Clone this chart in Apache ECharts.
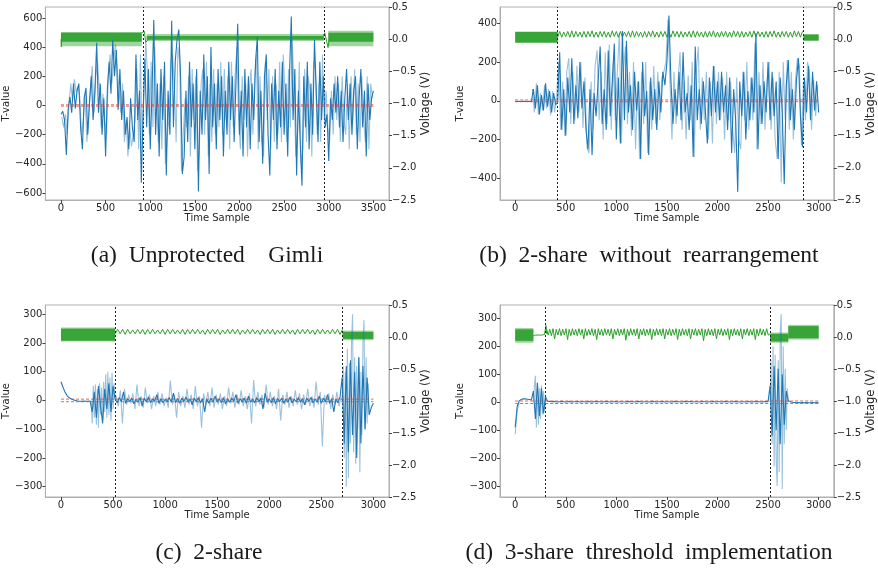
<!DOCTYPE html>
<html><head><meta charset="utf-8">
<script src="https://cdn.jsdelivr.net/npm/echarts@6/dist/echarts.min.js"></script>
<style>html,body{margin:0;padding:0;background:#fff}#c{width:878px;height:569px}</style>
</head><body><div id="c"></div>
<script>
// ---------------- DATA ----------------
const X_TICKS_A = [0,500,1000,1500,2000,2500,3000,3500];
const X_TICKS_BCD = [0,500,1000,1500,2000,2500,3000];
const Y_TICKS_A = [-600,-400,-200,0,200,400,600];
const Y_TICKS_B = [-400,-200,0,200,400];
const Y_TICKS_CD = [-300,-200,-100,0,100,200,300];
const CAPTIONS = ['(a)  Unprotected    Gimli','(b)  2-share  without  rearrangement','(c)  2-share','(d)  3-share  threshold  implementation'];
const THRESH = 4.5;
const VLINES_A = [925, 2955], VLINES_B = [420, 2845], VLINES_C = [520, 2705], VLINES_D = [300, 2520];

// T-values, dark trace (sample step 20, from t=0)
const A_T = [-60,-40,-100,-340,-30, 60,-50,150,-20,100, 150,-150,-300,50,120, -200,30,200,-100,100, 430,-50,150,-200,50,
 -350,120,300,80,450, 200,380,-30,250,-100, 100,-200,-80,-300,50, -150,-250,350,-100,100, -530,-50,320,-150,250,
 -300,100,585,-200,150, -350,250,-100,300,-480, 100,-200,580,-150,300, 450,520,200,-470,-350, 100,-250,300,-150,150,
 -300,250,-590,100,-200, 350,-100,200,-470,400, -150,150,-300,250,-100, 200,-350,100,-200,300, -100,200,-250,150,560,
 -200,100,-350,250,-150, 200,-300,150,-100,300, 470,-250,100,-400,200, 350,-200,-480,150,-100, 250,-300,100,-150,300,
 -200,150,-350,200,610, -100,250,-480,100,-250, -550,200,-150,300,-300, 150,-200,450,100,-250, 300,-100,200,-150,-60,
 -380,50,-100,150,-50, 200,-150,100,-250,50, 250,-100,150,-200,100, 200,-300,50,250,-150, 100,-350,150,-100,50, 100];
// T-values, light trace (sample step 20, from t=10)
const A_L = [-80,-150,-60,-200,20, 150,30,180,90,130, 60,-200,-100,80,-250, -80,120,270,-50,200, 300,100,-150,80,-100,
 -200,200,350,150,300, 420,250,100,-50,150, -250,-100,-350,-150,-280, -200,-100,250,-300,350, -300,100,450,200,-200,
 300,-150,400,50,-250, 150,-300,200,-400,-200, -100,300,350,150,-250, 400,300,-450,-200,50, -150,200,-350,250,-100,
 200,-450,-300,150,250, -200,300,-350,150,-250, 250,-200,150,-150,300, -200,250,-100,200,-300, 300,-150,200,400,-100,
 -300,200,-100,150,-350, 100,250,-200,200,350, -300,200,-250,-350,300, -100,250,-300,200,-250, 150,-200,300,-250,350,
 100,-250,250,-150,450, 150,-350,-200,300,-400, -300,250,-250,200,100, -350,300,250,-200,150, -250,350,-100,100,-150,
 -250,100,-200,200,-100, 150,-250,200,-100,-200, 150,-300,200,-100,250, -200,150,-250,200,-100, -250,200,-300,150,50];
const B_T = [-3,-4,-3,-4,-3,-3,-4,-3,-5,
 60,-40,80,-70,30,-50,90,-30,50,-60,40,-20, -10,
 250,-150,60,-180,120,-60,220,-120,80,-90,200,-40,100,-150,-250,60,-280,40,-80,100,280,-120,60,-150,260,-80,100,295,-200,
 120,-220,360,-100,310,-60,80,-150,150,-50,100,-300,200,-80,50,-280,120,-100,60,-150,100,-60,150,80,200,
 440,100,-120,60,-80,150,-100,250,-60,40,-150,80,-290,280,-100,60,-120,100,-50,-220,120,-80,180,-60,100,
 -100,150,-60,80,-150,120,-270,60,-100,-470,100,-80,150,-200,50,-100,120,-60,350,-250,80,-120,100,-60,200,
 -100,150,-80,100,-300,120,-60,-430,80,210,-100,60,-150,100,220,-80,-240,120,-60,180,-100,150,-50,100,-60];
// light trace from t=170, step 20
const B_L = [60,-60,90,-70,40, -50,80,-40,60,-75, 50,-60,30,
 200,-150,100,-180,150, 220,-120,150,-100,180, -60,200,-140,120,-240, -270,100,-150,180,260, -100,150,-200,250,-120,
 290,-150,200,-100,150, 350,-220,150,280,-120, 150,-180,200,-250,100, -300,150,-120,200,-270, 100,-150,180,-120,150,
 -100,120,150,200,420, 100,-200,150,-120,100, 250,-150,100,-200,130, -100,200,-290,150,280, -150,120,-100,150,-200,
 100,-220,180,-120,150, -100,120,-200,150,-100, 100,-150,-270,120,-200, -250,150,-100,200,-150, 120,-100,300,-250,150,
 -120,200,-150,100,200, -150,120,-200,-300,150, -420,200,-100,210,-150, 150,-200,100,220,180, -230,100,-100,200,150,
 -150,110,-80,80];
const C_T = [65,45,28,16,9,5,2,0,
 -2,-3,-3,-2,-3,-3,-2,
 -40,30,-60,50,-20,-80,40,-30,60,-40,50,
 5,-8,10,-5,30,-10,6,-4,8,-12, 4,-6,10,-20,8,-5,12,-8,5,-3, 20,-10,6,-8,4,-5,10,-6,25,-8,
 6,-10,8,-4,12,-6,5,-15,8,-5, 10,-8,6,-40,5,-10,8,-6,15,-5, 6,-8,10,-12,5,-6,8,-4,20,-10,
 6,-5,8,-10,15,-6,4,-8,10,-5, 8,-30,25,-6,5,-8,10,-12,6,-4, 8,-10,5,-6,12,-8,4,-5,10,-6,
 6,-15,8,-4,10,-8,5,-6,15,-10, 8,-5,20,-10,6,-40,5,-8,12,
 80,-150,120,-180,140,-120,100,-200,150,-150,120,-100,80,
 -50,-25,-10];
// light trace pieces ([time, value]; '-' breaks the line)
const C_L_BURST1 = [[290,0],[300,-80],[310,50],[320,-60],[330,55],[340,-85],[350,40],[360,-95],[370,60],[380,-50],[390,45],[400,-70],[410,65],[420,-40],[430,90],[440,-60],[450,100],[460,-50],[470,80],[480,-70],[490,95],[500,-30],[510,60],[520,0]];
// light trace middle part, from t=530, step 20
const C_L_MID = [15,-20,35,-80,40,-15,20,-10,25,-30, 55,-20,15,-25,45,-10,20,-30,15,-20, 30,-15,25,-20,10,-25,69,-15,20,-60,
 30,-20,15,-25,40,-15,20,-30,50,-20, 15,-95,25,-15,30,-20,45,-25,20,-15, 25,-30,15,-20,45,-10,30,-25,20,-15,
 35,-20,15,-30,25,-80,71,-20,30,-15, 20,-25,55,-15,30,-20,15,-30,40,-70, 20,-15,30,-25,15,-20,35,-15,25,-30,
 20,-15,40,-20,15,-25,65,-15,30,-160, 20,-15,25,-30,20,-15,30,-20,10];
const C_L_BURST2 = [[2700,0],[2710,120],[2720,-200],[2730,100],[2740,-300],[2750,180],[2760,-270],[2770,130],[2780,-150],[2790,200],[2800,300],[2810,-180],[2820,150],[2830,-220],[2840,120],[2850,-100],[2860,150],[2870,-250],[2880,100],[2890,-120],[2900,200],[2910,280],[2920,-100],[2930,150],[2940,-80],[2950,60],[2960,-50]];
const D_T = [-90,-15,5,10,12,12,11,10,8,
 40,-60,70,-50,50,-40,20,
 4,3,2,3,2,1,2,3,2,1, 2,3,1,2,2,3,1,2,2,1, 3,2,1,2,3,2,2,1,2,3, 2,1,2,2,3,1,2,2,1,2, 3,2,2,1,2,3,2,1,2,2,
 1,2,3,2,1,2,2,3,1,2, 2,1,2,3,2,2,1,2,3,2, 2,3,1,2,2,1,3,2,2,1, 2,2,3,1,2,2,1,2,3,2, 1,2,2,3,2,1,2,2,1,3,
 2,1,2,3,2,2,1,2,3,2,
 60,-120,130,-100,120,-150,100,-80,40,
 5,2,0,-1,-2,-1,-2,-1,-2,-1,-2,-2,-1,-2,-1,-2];
const D_L = [[0,-115],[20,-30],[40,0],[40,'-'],
 [180,0],[190,60],[200,95],[210,-90],[220,70],[230,-80],[240,50],[250,-60],[260,60],[270,-45],[280,40],[290,-30],[300,5],[300,'-'],
 [2520,0],[2530,150],[2540,-150],[2550,200],[2560,-230],[2570,170],[2580,-200],[2590,-300],[2600,150],[2610,-250],[2620,250],[2630,315],[2640,-310],[2650,200],[2660,-150],[2670,120],[2680,-100],[2690,50],[2700,0]];
const T_STEP = 20;

// Voltage: dense bands [t0, t1, low, high]
const A_BAND_OUT = [[0,905,-0.11,0.11],[960,2945,-0.03,0.08],[2995,3500,-0.11,0.13]];
const A_BAND_CORE = [[0,905,-0.04,0.10],[960,2945,-0.01,0.05],[2995,3500,-0.04,0.10]];
const B_BAND_OUT = [[0,420,-0.06,0.12],[2850,3000,-0.03,0.08]];
const B_BAND_CORE = [[0,420,-0.05,0.11],[2850,3000,-0.02,0.07]];
const C_BAND_OUT = [[0,520,-0.07,0.15],[2705,3000,-0.05,0.10]];
const C_BAND_CORE = [[0,520,-0.06,0.13],[2705,3000,-0.03,0.08]];
const D_BAND_OUT = [[0,180,-0.09,0.14],[2520,2700,-0.09,0.07],[2700,3000,-0.04,0.19]];
const D_BAND_CORE = [[0,180,-0.06,0.12],[2520,2700,-0.07,0.05],[2700,3000,-0.02,0.17]];
// Voltage: individual strokes
const A_VLINE = [[0,0.0],[4,-0.12],[10,0.05],[10,'-'],[905,0.10],[915,0.12],[925,0.08],[935,0.12],[948,-0.05],[965,-0.02],[1000,0.02],[1000,'-'],
 [2940,0.05],[2955,0.10],[2965,0.08],[2975,0.12],[2992,-0.13],[3005,0.0]];
const B_ZIG = [0.03,0.12,0.03,0.11,0.04,0.12,0.03,0.13,0.03,0.12, 0.04,0.11,0.03,0.12,0.03,0.12,0.04,0.13,0.03,0.11,
 0.03,0.12,0.04,0.12,0.03,0.11,0.03,0.13,0.04,0.12, 0.03,0.12,0.03,0.11,0.04,0.12,0.03,0.13,0.03,0.12,
 0.04,0.11,0.03,0.12,0.03,0.12,0.04,0.13,0.03,0.11, 0.03,0.12,0.04,0.12,0.03,0.11,0.03,0.13,0.04,0.12,
 0.03,0.12,0.03,0.11,0.04,0.12,0.03,0.13,0.03,0.12, 0.04,0.11,0.03,0.12,0.03,0.12,0.04,0.13,0.03,0.11,
 0.03,0.12,0.04,0.12,0.03,0.11,0.03,0.13,0.04,0.12, 0.03,0.12,0.03,0.11,0.04,0.12,0.03,0.13,0.03,0.12,
 0.04,0.11,0.03,0.12,0.03,0.12,0.04,0.13,0.03,0.11, 0.03,0.12,0.04,0.12,0.03,0.11,0.03,0.13,0.04,0.12, 0.03,0.12];
const B_ZIG_START = 420, B_ZIG_STEP = 20;
const C_ZIG = [0.05,0.12,0.05,0.12,0.04,0.12,0.05,0.11,0.05,0.12, 0.05,0.12,0.04,0.12,0.05,0.12,0.05,0.11,0.05,0.12,
 0.04,0.12,0.05,0.12,0.05,0.11,0.05,0.12,0.04,0.12, 0.05,0.12,0.05,0.12,0.05,0.11,0.04,0.12,0.05,0.12,
 0.05,0.12,0.04,0.11,0.05,0.12,0.05,0.12,0.05,0.12, 0.04,0.11,0.05,0.12,0.05,0.12,0.05,0.11,0.04,0.12,
 0.05,0.12,0.05,0.12,0.04,0.11,0.05,0.12,0.05,0.12, 0.05,0.11,0.04,0.12,0.05,0.12,0.05,0.12,0.05,0.11,
 0.04,0.12,0.05,0.12,0.05,0.11,0.05,0.12,0.05,0.12, 0.04,0.12];
const C_ZIG_START = 520, C_ZIG_STEP = 24;
const D_VLINE = [[180,0.02],[200,0.03],[230,0.03],[260,0.03],[290,0.04],[300,0.03],[305,0.18],[310,0.05]];
const D_ZIG = [0.13,0.03,0.12,0.02,0.13,-0.03,0.12,0.03,0.13,0.02, 0.12,0.03,0.13,-0.04,0.12,0.02,0.13,0.03,0.12,0.02,
 0.13,0.03,0.12,-0.03,0.13,0.02,0.12,0.03,0.13,0.02, 0.12,-0.04,0.13,0.03,0.12,0.02,0.13,0.03,0.12,0.02,
 0.13,-0.03,0.12,0.03,0.13,0.02,0.12,0.03,0.13,-0.05, 0.12,0.02,0.13,0.03,0.12,0.02,0.13,-0.03,0.12,0.03,
 0.13,0.02,0.12,0.03,0.13,-0.04,0.12,0.02,0.13,0.03, 0.12,0.02,0.13,-0.03,0.12,0.03,0.13,0.02,0.12,0.03,
 0.13,-0.04,0.12,0.02,0.13,0.03,0.12,0.02,0.13,-0.03, 0.12,0.03,0.13,0.02,0.12,0.03,0.13,-0.06,0.12,0.02,
 0.13,0.03,0.12,0.02,0.13,-0.03,0.12,0.03,0.13,0.02, 0.12,0.03,0.13,-0.04,0.12,0.02,0.13,0.03,0.12,0.02,
 0.13,-0.03,0.12,0.03,0.13,0.02,0.12,0.03,0.13,-0.04, 0.12,0.02,0.13,0.03,0.12,0.02,0.13,0.03,0.05];
const D_ZIG_START = 310, D_ZIG_STEP = 16;

// ---------------- BUILD ----------------
const FONT = 'DejaVu Sans';
const TXT = '#262626', SPINE = '#b0b0b0';
const BLUE = '#1f77b4', GREEN = '#2ca02c', RED = '#e0403c';
const minus = s => String(s).replace('-', '\u2212');
const seq = (start, step, vals) => vals.map((v, i) => [start + i * step, v]);

const panels = [
 {box:{left:45,top:7,width:344,height:193}, x:[-175,3675], y:[-648,675], xt:X_TICKS_A, yt:Y_TICKS_A, tEnd:3500,
  blue:A_T, light:seq(10,T_STEP,A_L), bOut:A_BAND_OUT, bCore:A_BAND_CORE, vlines:[A_VLINE], vmark:VLINES_A},
 {box:{left:500,top:7,width:343,height:193}, x:[-150,3150], y:[-512,484], xt:X_TICKS_BCD, yt:Y_TICKS_B, tEnd:3000,
  blue:B_T, light:seq(170,T_STEP,B_L), bOut:B_BAND_OUT, bCore:B_BAND_CORE, vlines:[seq(B_ZIG_START,B_ZIG_STEP,B_ZIG)], vmark:VLINES_B},
 {box:{left:45,top:305,width:344,height:192}, x:[-150,3150], y:[-336,332], xt:X_TICKS_BCD, yt:Y_TICKS_CD, tEnd:3000,
  blue:C_T, light:C_L_BURST1.concat(seq(530,T_STEP,C_L_MID), C_L_BURST2), bOut:C_BAND_OUT, bCore:C_BAND_CORE, vlines:[seq(C_ZIG_START,C_ZIG_STEP,C_ZIG)], vmark:VLINES_C},
 {box:{left:500,top:305,width:343,height:192}, x:[-150,3150], y:[-339,348], xt:X_TICKS_BCD, yt:Y_TICKS_CD, tEnd:3000,
  blue:D_T, light:D_L, bOut:D_BAND_OUT, bCore:D_BAND_CORE, vlines:[D_VLINE, seq(D_ZIG_START,D_ZIG_STEP,D_ZIG)], vmark:VLINES_D}
];

const grid = [], xAxis = [], yAxis = [], series = [];
const lbl = {fontFamily:FONT, fontSize:10, color:TXT};
const lblV = {fontFamily:FONT, fontSize:11.5, color:TXT};
panels.forEach((p, i) => {
  grid.push(Object.assign({show:true, borderColor:SPINE, borderWidth:1, containLabel:false}, p.box));
  xAxis.push({type:'value', gridIndex:i, min:p.x[0], max:p.x[1], name:'Time Sample', nameLocation:'middle', nameGap:12,
    nameTextStyle:lbl, splitLine:{show:false},
    axisLine:{show:true, onZero:false, lineStyle:{color:SPINE}},
    axisTick:{show:true, length:3, customValues:p.xt, lineStyle:{color:'#444'}},
    axisLabel:Object.assign({customValues:p.xt, margin:3, formatter:v => minus(v)}, lbl)});
  yAxis.push({type:'value', gridIndex:i, position:'left', min:p.y[0], max:p.y[1], name:'T-value', nameLocation:'middle', nameGap:25,
    nameTextStyle:lbl, splitLine:{show:false},
    axisLine:{show:true, onZero:false, lineStyle:{color:SPINE}},
    axisTick:{show:true, length:3, customValues:p.yt, lineStyle:{color:'#444'}},
    axisLabel:Object.assign({customValues:p.yt, margin:3, formatter:v => minus(v)}, lbl)});
  yAxis.push({type:'value', gridIndex:i, position:'right', min:-2.5, max:0.5, interval:0.5, name:'Voltage (V)', nameLocation:'middle', nameGap:27,
    nameTextStyle:lblV, splitLine:{show:false},
    axisLine:{show:true, onZero:false, lineStyle:{color:SPINE}},
    axisTick:{show:true, length:3, lineStyle:{color:'#444'}},
    axisLabel:Object.assign({margin:3, formatter:v => minus(v.toFixed(1))}, lbl)});
  const yL = 2*i, yR = 2*i+1;
  const bandSeries = (data, opacity) => ({type:'custom', xAxisIndex:i, yAxisIndex:yR, coordinateSystem:'cartesian2d', z:2, silent:true,
    encode:{x:[0,1], y:[2,3]}, data:data, clip:true,
    renderItem:(params, api) => {
      const a = api.coord([api.value(0), api.value(3)]);
      const b = api.coord([api.value(1), api.value(2)]);
      return {type:'rect', shape:{x:a[0], y:a[1], width:b[0]-a[0], height:b[1]-a[1]}, style:{fill:GREEN, opacity:opacity}};
    }});
  series.push(bandSeries(p.bOut, 0.45));
  series.push(bandSeries(p.bCore, 0.9));
  p.vlines.forEach(d => series.push({type:'line', xAxisIndex:i, yAxisIndex:yR, data:d, showSymbol:false, symbol:'none', z:3, clip:true,
    lineStyle:{color:GREEN, width:1}}));
  series.push({type:'line', xAxisIndex:i, yAxisIndex:yL, data:p.light, showSymbol:false, symbol:'none', z:4, clip:true,
    lineStyle:{color:BLUE, width:1.1, opacity:0.45}});
  series.push({type:'line', xAxisIndex:i, yAxisIndex:yL, data:seq(0, T_STEP, p.blue), showSymbol:false, symbol:'none', z:5, clip:true,
    lineStyle:{color:BLUE, width:1.1}});
  [THRESH, -THRESH].forEach((t, k) => series.push({type:'line', xAxisIndex:i, yAxisIndex:yL, data:[[0,t],[p.tEnd,t]], showSymbol:false, symbol:'none', z:6,
    lineStyle:{color:RED, width:1, type:[3,2], opacity:0.8},
    markLine: k ? undefined : {silent:true, symbol:'none', label:{show:false}, lineStyle:{color:'#222', width:1, type:[2,2]},
      data:p.vmark.map(v => ({xAxis:v}))}}));
});

const capPos = [[207,256],[649,256],[209,553],[649,553]];
const graphic = CAPTIONS.map((c, i) => ({type:'text', x:capPos[i][0], y:capPos[i][1],
  style:{text:c, fontFamily:'Liberation Serif', fontSize:23.5, fill:'#1a1a1a', textAlign:'center', textVerticalAlign:'middle'}}));

const chart = echarts.init(document.getElementById('c'));
chart.setOption({animation:false, backgroundColor:'#fff', grid, xAxis, yAxis, series, graphic});
</script></body></html>
